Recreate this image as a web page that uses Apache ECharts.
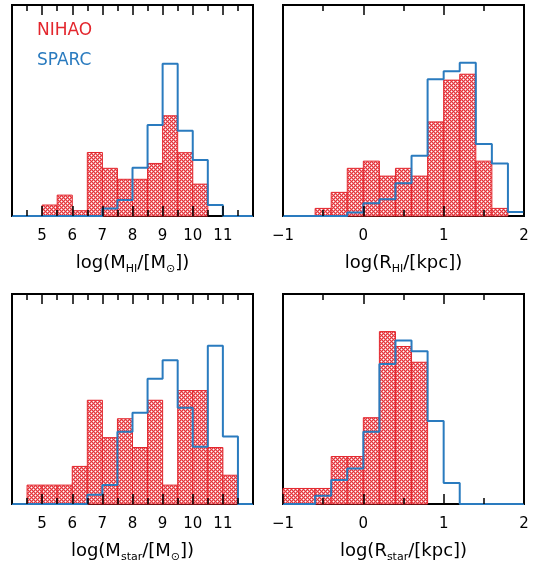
<!DOCTYPE html>
<html>
<head>
<meta charset="utf-8">
<script src="https://cdn.jsdelivr.net/npm/echarts@6/dist/echarts.min.js"></script>
<style>
  html, body { margin: 0; padding: 0; background: #fff; }
  #chart { width: 539px; height: 564px; }
</style>
</head>
<body>
<div id="chart"></div>
<script>
// histogram bins: masses in 0.5 dex from 4, radii in 0.2 dex from -1
var massStart = 4, massWidth = 0.5;
var radStart = -1, radWidth = 0.2;

// heights (percent of panel height)
var nihaoMHI  = [0, 0, 5.2, 9.9, 2.5, 30.1, 22.6, 17.4, 17.4, 24.9, 47.5, 30.0, 15.1, 0, 0, 0];
var sparcMHI  = [0, 0, 0, 0, 0, 0, 3.6, 7.6, 22.9, 43.1, 72.2, 40.4, 26.5, 5.2, 0, 0];
var nihaoRHI  = [0, 0, 3.6, 11.2, 22.6, 26.0, 18.9, 22.6, 18.9, 44.6, 64.4, 67.2, 26.0, 3.6, 0];
var sparcRHI  = [0, 0, 0, 0, 1.7, 6.0, 7.9, 15.5, 28.5, 64.8, 68.6, 72.6, 34.1, 24.9, 1.9];
var nihaoMstar = [0, 9.0, 9.0, 9.0, 17.9, 49.4, 31.6, 40.6, 26.9, 49.4, 9.0, 54.0, 54.0, 26.9, 13.7, 0];
var sparcMstar = [0, 0, 0, 0, 0, 4.4, 9.0, 34.4, 43.4, 59.6, 68.4, 45.8, 27.3, 75.4, 32.1, 0];
var nihaoRstar = [7.4, 7.4, 7.4, 22.6, 22.6, 41.1, 82.1, 75.0, 67.5, 0, 0, 0, 0, 0, 0];
var sparcRstar = [0, 0, 3.9, 11.4, 16.9, 34.4, 66.7, 77.9, 72.7, 39.5, 10.0, 0, 0, 0, 0];

var massTicks = [4, 12, 1];
var radTicks = [-1, 2, 1];

var RED = '#e3262d';
var BLUE = '#2a7bbf';
var FONT = 'DejaVu Sans';

// cross-hatch fill: red mesh with white holes
var tile = document.createElement('canvas');
tile.width = 4; tile.height = 4;
var tc = tile.getContext('2d');
tc.fillStyle = '#e5333a';
tc.fillRect(0, 0, 4, 4);
tc.fillStyle = '#ffffff';
tc.fillRect(1, 1, 1, 1);
tc.fillRect(3, 3, 1, 1);
tc.fillStyle = '#f08f93';
tc.fillRect(0, 1, 1, 1); tc.fillRect(2, 1, 1, 1);
tc.fillRect(1, 0, 1, 1); tc.fillRect(1, 2, 1, 1);
tc.fillRect(3, 2, 1, 1); tc.fillRect(3, 0, 1, 1);
tc.fillRect(2, 3, 1, 1); tc.fillRect(0, 3, 1, 1);
var hatch = { image: tile, repeat: 'repeat' };

var grids = [
  { left: 12, top: 5, width: 241, height: 211 },
  { left: 283, top: 5, width: 241, height: 211 },
  { left: 12, top: 294, width: 241, height: 211 },
  { left: 283, top: 294, width: 241, height: 211 }
];
grids.forEach(function (g) {
  g.show = true;
  g.borderColor = '#000';
  g.borderWidth = 2;
  g.backgroundColor = 'transparent';
});

var rich = {
  a: { fontFamily: FONT, fontSize: 18, color: '#000', lineHeight: 24 },
  s: { fontFamily: FONT, fontSize: 11, color: '#000', lineHeight: 12, verticalAlign: 'bottom' }
};

var names = [
  '{a|log(M}{s|HI}{a|/[M}{s|⊙}{a|])}',
  '{a|log(R}{s|HI}{a|/[kpc])}',
  '{a|log(M}{s|star}{a|/[M}{s|⊙}{a|])}',
  '{a|log(R}{s|star}{a|/[kpc])}'
];

var xAxis = [], yAxis = [], series = [];

function renderBar(params, api) {
  var h = api.value(2);
  if (!h) return;
  var p0 = api.coord([api.value(0), h]);
  var p1 = api.coord([api.value(1), 0]);
  return {
    type: 'rect',
    shape: { x: p0[0], y: p0[1], width: p1[0] - p0[0], height: p1[1] - p0[1] },
    style: { fill: hatch, stroke: RED, lineWidth: 1 }
  };
}

function addPanel(i, start, width, red, blue, ticks, hideEnds) {
  var tickCfg = {
    min: ticks[0], max: ticks[1], interval: ticks[2],
    axisLine: { show: false },
    axisTick: { show: true, inside: true, length: 10, lineStyle: { color: '#000', width: 1.5 } },
    minorTick: { show: true, splitNumber: 2, length: 6, lineStyle: { color: '#000', width: 1.5 } },
    splitLine: { show: false },
    z: 10
  };
  xAxis.push(Object.assign({}, tickCfg, {
    type: 'value', gridIndex: i, position: 'bottom',
    name: names[i], nameLocation: 'middle', nameGap: 35,
    nameTextStyle: { rich: rich },
    axisLabel: {
      show: true, margin: 13, fontFamily: FONT, fontSize: 15, color: '#000',
      showMinLabel: !hideEnds, showMaxLabel: !hideEnds,
      formatter: function (v) { return String(v).replace('-', '\u2212'); }
    }
  }));
  xAxis.push(Object.assign({}, tickCfg, {
    type: 'value', gridIndex: i, position: 'top', axisLabel: { show: false }
  }));
  yAxis.push({ type: 'value', gridIndex: i, min: 0, max: 100, show: false });

  var barData = [], stepData = [];
  red.forEach(function (v, k) {
    barData.push([start + k * width, start + (k + 1) * width, v]);
  });
  blue.forEach(function (v, k) {
    stepData.push([start + k * width, v]);
    stepData.push([start + (k + 1) * width, v]);
  });
  series.push({
    type: 'custom', xAxisIndex: 2 * i, yAxisIndex: i,
    renderItem: renderBar, encode: { x: [0, 1], y: 2 },
    data: barData, z: 2
  });
  series.push({
    type: 'line', xAxisIndex: 2 * i, yAxisIndex: i,
    data: stepData, symbol: 'none', clip: false, silent: true,
    lineStyle: { color: BLUE, width: 2 }, z: 3
  });
}

addPanel(0, massStart, massWidth, nihaoMHI, sparcMHI, massTicks, true);
addPanel(1, radStart, radWidth, nihaoRHI, sparcRHI, radTicks, false);
addPanel(2, massStart, massWidth, nihaoMstar, sparcMstar, massTicks, true);
addPanel(3, radStart, radWidth, nihaoRstar, sparcRstar, radTicks, false);

var myChart = echarts.init(document.getElementById('chart'));
myChart.setOption({
  animation: false,
  backgroundColor: '#fff',
  grid: grids,
  xAxis: xAxis,
  yAxis: yAxis,
  series: series,
  graphic: [
    { type: 'text', left: 37, top: 22, style: { text: 'NIHAO', fill: RED, font: '17px "DejaVu Sans"' } },
    { type: 'text', left: 37, top: 52, style: { text: 'SPARC', fill: BLUE, font: '17px "DejaVu Sans"' } }
  ]
});
</script>
</body>
</html>
